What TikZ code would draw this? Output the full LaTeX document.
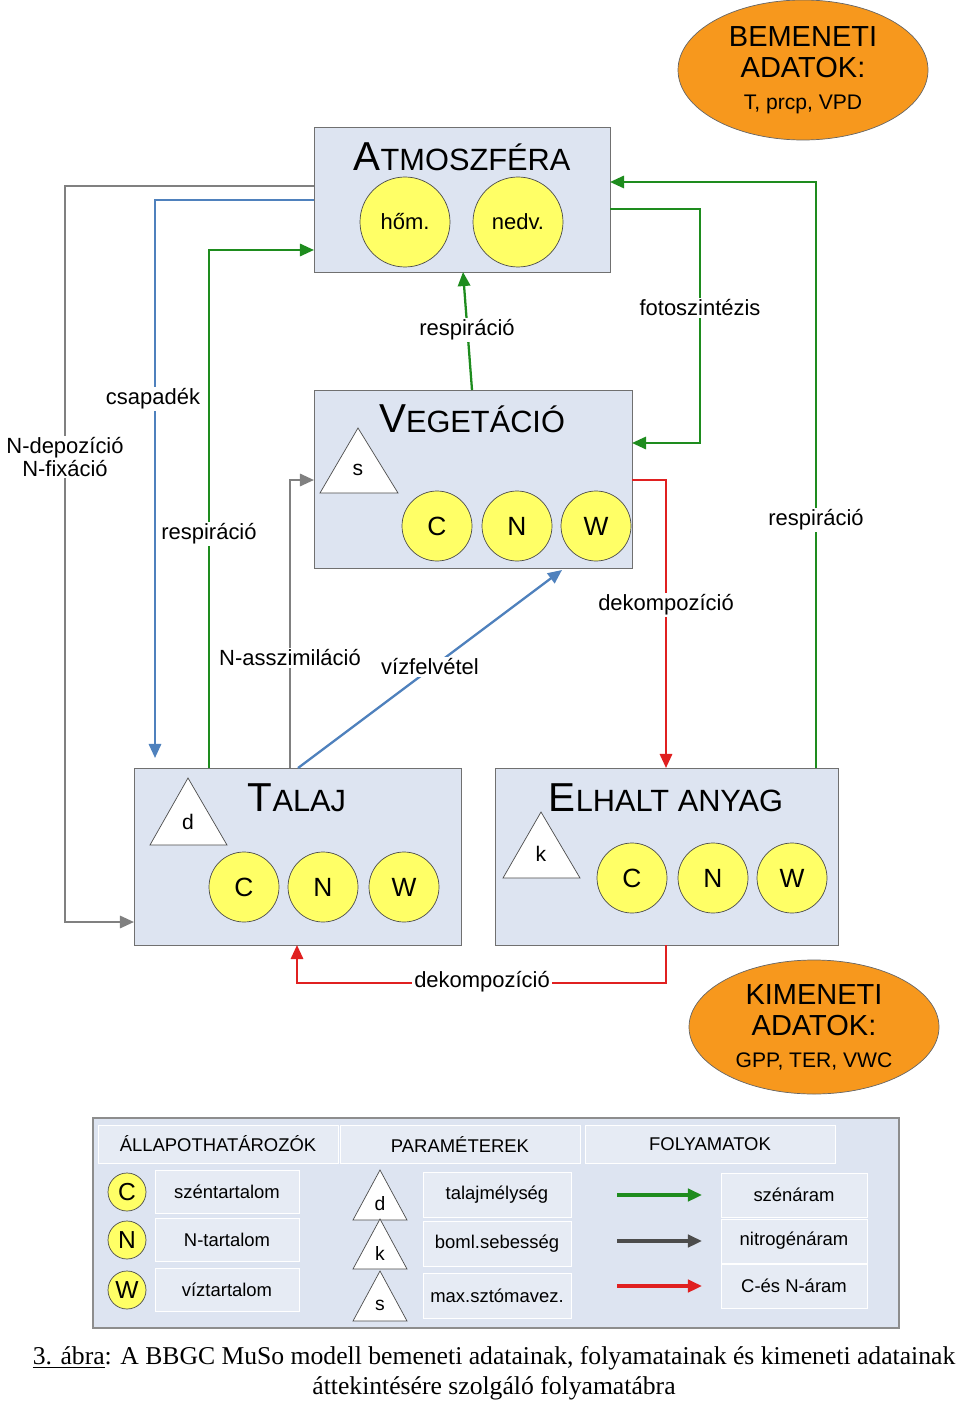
\documentclass[tikz,border=0pt]{standalone}
\usepackage{fontspec}
\setmainfont{Liberation Serif}
\newfontfamily\diagfont{Liberation Sans}
\usepackage{tikz}
\usetikzlibrary{shapes,positioning,calc,arrows.meta}

\definecolor{boxfill}{HTML}{DDE4F1}
\definecolor{boxline}{HTML}{707070}
\definecolor{legfill}{HTML}{E6EBF4}
\definecolor{yel}{HTML}{FFFF66}
\definecolor{org}{HTML}{F7981D}
\definecolor{cgreen}{HTML}{1E8C1E}
\definecolor{cblue}{HTML}{4F81BD}
\definecolor{cgray}{HTML}{808080}
\definecolor{cred}{HTML}{E02020}

\tikzset{
  pool/.style={circle, draw=black!70, fill=yel, minimum size=70*0.02cm, inner sep=0pt, font=\diagfont\fontsize{15}{15}\selectfont},
  inout/.style={ellipse, draw=black!60, fill=org, align=center, inner sep=0pt, font=\diagfont\fontsize{16.5}{18}\selectfont},
  flow/.style={line width=1.3pt, -{Triangle[length=8pt,width=7pt]}},
  lbl/.style={font=\diagfont\fontsize{12.5}{13}\selectfont, fill=white, inner sep=1pt},
  legbox/.style={draw=white, fill=legfill, inner sep=0pt, font=\diagfont\fontsize{10.5}{11}\selectfont}
}
\newcommand{\bigsc}[2]{{\fontsize{23}{24}\selectfont #1}{\fontsize{17.5}{18}\selectfont #2}}

\begin{document}
\begin{tikzpicture}[x=0.02cm, y=-0.02cm]
    \useasboundingbox (0,0) rectangle (960,1405);

    % input / output ellipses
    \node[inout, minimum width=250*0.02cm, minimum height=140*0.02cm] (inp) at (803,70)
      {BEMENETI\\ADATOK:\\\fontsize{12}{14}\selectfont T, prcp, VPD};
    \node[inout, minimum width=250*0.02cm, minimum height=134*0.02cm] (out) at (814,1027)
      {KIMENETI\\ADATOK:\\\fontsize{12}{14}\selectfont GPP, TER, VWC};

    % atmosphere
    \draw[draw=boxline, fill=boxfill] (314,127) rectangle (610,272);
    \node[font=\diagfont] (atmt) at (462,157) {\bigsc{A}{TMOSZFÉRA}};
    \node[pool, minimum size=90*0.02cm, font=\diagfont\fontsize{12.5}{12}\selectfont] (hom) at (405,222) {hőm.};
    \node[pool, minimum size=90*0.02cm, font=\diagfont\fontsize{12.5}{12}\selectfont] (nedv) at (518,222) {nedv.};

    % vegetation
    \draw[draw=boxline, fill=boxfill] (314,390) rectangle (632,568);
    \node[font=\diagfont] (vegt) at (472,419) {\bigsc{V}{EGETÁCIÓ}};
    \draw[black!70, fill=white] (358,428) -- (398,493) -- (320,493) -- cycle;
    \node[font=\diagfont\fontsize{12}{12}\selectfont] (vs) at (358,470) {s};
    \node[pool] (vc) at (437,526) {C};
    \node[pool] (vn) at (517,526) {N};
    \node[pool] (vw) at (596,526) {W};

    % soil
    \draw[draw=boxline, fill=boxfill] (134,768) rectangle (461,945);
    \node[font=\diagfont] (talt) at (297,798) {\bigsc{T}{ALAJ}};
    \draw[black!70, fill=white] (188,778) -- (227,845) -- (150,845) -- cycle;
    \node[font=\diagfont\fontsize{12}{12}\selectfont] (td) at (188,822) {d};
    \node[pool] (tc) at (244,887) {C};
    \node[pool] (tn) at (323,887) {N};
    \node[pool] (tw) at (404,887) {W};

    % litter
    \draw[draw=boxline, fill=boxfill] (495,768) rectangle (838,945);
    \node[font=\diagfont] (elt) at (666,798) {\bigsc{E}{LHALT ANYAG}};
    \draw[black!70, fill=white] (541,812) -- (580,878) -- (503,878) -- cycle;
    \node[font=\diagfont\fontsize{12}{12}\selectfont] (ek) at (541,854) {k};
    \node[pool] (ec) at (632,878) {C};
    \node[pool] (en) at (713,878) {N};
    \node[pool] (ew) at (792,878) {W};

    % fluxes
    \draw[flow, cgray] (314,186) -- (65,186) -- (65,922) -- (134,922);
    \node[lbl, align=center] at (65,457) {N-depozíció\\N-fixáció};
    \draw[flow, cblue] (314,200) -- (155,200) -- (155,758);
    \node[lbl] at (153,399) {csapadék};
    \draw[flow, cgreen] (209,768) -- (209,250) -- (314,250);
    \node[lbl] at (209,534) {respiráció};
    \draw[flow, cgray] (290,768) -- (290,480) -- (314,480);
    \node[lbl] at (290,658) {N-asszimiláció};
    \draw[flow, cblue] (298,768) -- (562,570);
    \node[lbl] at (430,667) {vízfelvétel};
    \draw[flow, cgreen] (472,390) -- (463,272);
    \node[lbl] at (467,330) {respiráció};
    \draw[flow, cgreen] (610,209) -- (700,209) -- (700,443) -- (632,443);
    \node[lbl] at (700,308) {fotoszintézis};
    \draw[flow, cred] (632,480) -- (666,480) -- (666,768);
    \node[lbl] at (666,605) {dekompozíció};
    \draw[flow, cgreen] (816,768) -- (816,182) -- (610,182);
    \node[lbl] at (816,520) {respiráció};
    \draw[flow, cred] (666,945) -- (666,983) -- (297,983) -- (297,945);
    \node[lbl] at (482,982) {dekompozíció};

    % legend
    \draw[draw=boxline!80, fill=boxfill, line width=1pt] (93,1118) rectangle (899,1328);
    \node[legbox, minimum width=240*0.02cm, minimum height=38*0.02cm] (h1) at (218,1144) {ÁLLAPOTHATÁROZÓK};
    \node[legbox, minimum width=240*0.02cm, minimum height=38*0.02cm] (h2) at (460,1144) {PARAMÉTEREK};
    \node[legbox, minimum width=250*0.02cm, minimum height=38*0.02cm] (h3) at (710,1144) {FOLYAMATOK};
    \foreach \y/\s/\t in {1192/C/széntartalom, 1240/N/N-tartalom, 1290/W/víztartalom} {
      \node[pool, minimum size=38*0.02cm, font=\diagfont\fontsize{14}{14}\selectfont] at (127,\y) {\s};
      \node[legbox, minimum width=144*0.02cm, minimum height=43*0.02cm] at (227,\y) {\t};
    }
    \foreach \y/\s/\t in {1195/d/talajmélység, 1244/k/boml.sebesség, 1296/s/max.sztómavez.} {
      \draw[black!70, fill=white] (380,\y-25) -- (407,\y+25) -- (353,\y+25) -- cycle;
      \node[font=\diagfont\fontsize{11}{11}\selectfont] at (380,\y+9) {\s};
      \node[legbox, minimum width=148*0.02cm, minimum height=45*0.02cm] at (497,\y) {\t};
    }
    \foreach \y/\c/\t in {1195/cgreen/szénáram, 1241/black!70/nitrogénáram, 1286/cred/C-és N-áram} {
      \coordinate (la) at (617,\y); \coordinate (lb) at (702,\y);
      \draw[flow, \c, line width=2pt] (la) -- (lb);
      \node[legbox, minimum width=146*0.02cm, minimum height=44*0.02cm] at (794,\y) {\t};
    }

    % caption
    \node[font=\fontsize{14.6}{17}\selectfont, align=center] (cap) at (494,1373)
      {\underline{3. ábra}: A BBGC MuSo modell bemeneti adatainak, folyamatainak és kimeneti adatainak\\áttekintésére szolgáló folyamatábra};
\end{tikzpicture}
\end{document}
